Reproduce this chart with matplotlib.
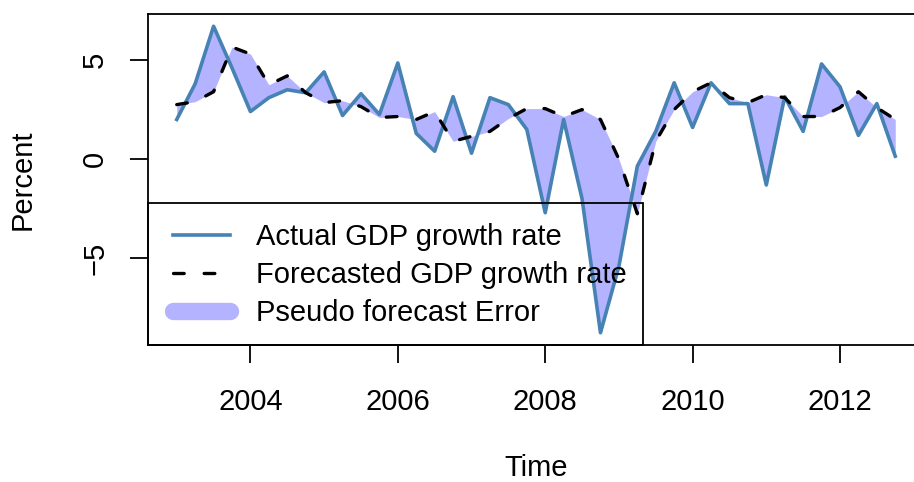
import numpy as np
import matplotlib.pyplot as plt
from matplotlib.lines import Line2D
from matplotlib.patches import Rectangle

# quarterly GDP growth, 2003Q1 - 2012Q4
start_year = 2003
actual = [2.0, 3.8, 6.7, 4.6,
          2.4, 3.1, 3.5, 3.35,
          4.4, 2.2, 3.3, 2.25,
          4.85, 1.3, 0.4, 3.15,
          0.3, 3.1, 2.75, 1.5,
          -2.7, 2.0, -2.0, -8.75,
          -5.4, -0.35, 1.4, 3.85,
          1.6, 3.85, 2.8, 2.8,
          -1.3, 3.15, 1.4, 4.8,
          3.65, 1.2, 2.8, 0.15]
forecast = [2.75, 2.9, 3.4, 5.65,
            5.3, 3.75, 4.2, 3.35,
            2.85, 2.95, 2.65, 2.1,
            2.15, 2.0, 2.4, 0.9,
            1.15, 1.4, 2.05, 2.55,
            2.55, 2.15, 2.5, 2.0,
            0.0, -2.75, 0.9, 2.5,
            3.4, 3.85, 3.1, 2.85,
            3.25, 3.1, 2.15, 2.15,
            2.6, 3.4, 2.6, 2.0]
xticks = [2004, 2006, 2008, 2010, 2012]
yticks = [-5, 0, 5]
labels = ['Actual GDP growth rate', 'Forecasted GDP growth rate', 'Pseudo forecast Error']

t = start_year + np.arange(len(actual)) / 4.0

plt.rcParams['font.family'] = ['Liberation Sans', 'DejaVu Sans']
fs = 21
blue = '#4682B4'
dash = (0, (3.2, 6.0))

fig = plt.figure(figsize=(9.14, 4.82), dpi=100)
# plot region runs past the right edge of the picture (cropped like the reference)
ax = fig.add_axes([148 / 914, 137 / 482, 776 / 914, 331 / 482])

ax.fill_between(t, actual, forecast, color='#B3B3FF', lw=0, zorder=1)
ax.plot(t, actual, color=blue, lw=2.6, zorder=2)
ax.plot(t, forecast, color='black', lw=2.4, ls=dash,
        dash_capstyle='round', zorder=3)

# R style 4% padding
xr = t[-1] - t[0]
ax.set_xlim(t[0] - 0.04 * xr, t[-1] + 0.04 * xr)
lo, hi = min(min(actual), min(forecast)), max(max(actual), max(forecast))
ax.set_ylim(lo - 0.04 * (hi - lo), hi + 0.04 * (hi - lo))

ax.set_xticks(xticks)
ax.set_xticklabels([str(v) for v in xticks], fontsize=fs)
ax.set_yticks(yticks)
ax.set_yticklabels(['\u22125' if v < 0 else str(v) for v in yticks],
                   fontsize=fs, rotation=90, va='center')
ax.tick_params(axis='x', length=13, width=1.3, pad=18)
ax.tick_params(axis='y', length=13, width=1.3, pad=15)
for s in ax.spines.values():
    s.set_linewidth(1.3)

fig.text(536 / 914, 1 - 468 / 482, 'Time', fontsize=fs, ha='center', va='center')
fig.text(23 / 914, 1 - 180 / 482, 'Percent', fontsize=fs, ha='center', va='center',
         rotation=90)

# legend box
ax.add_patch(Rectangle((0, 0), (643 - 148) / 776, (345 - 203) / 331,
                       transform=ax.transAxes, fill=False, ec='black', lw=1.3,
                       zorder=4, clip_on=False))
handles = [Line2D([], [], color=blue, lw=2.6),
           Line2D([], [], color='black', lw=2.4, ls=dash, dash_capstyle='round'),
           Line2D([], [], color='#B3B3FF', lw=12.5, solid_capstyle='round')]
leg = ax.legend(handles, labels, loc='upper left', frameon=False, fontsize=fs,
                bbox_to_anchor=((173 - 148) / 776, (345 - 223) / 331),
                borderaxespad=0, borderpad=0, handlelength=1.95,
                handletextpad=0.9, labelspacing=0.34)
leg.set_zorder(5)

fig.savefig('out.png', dpi=100)
